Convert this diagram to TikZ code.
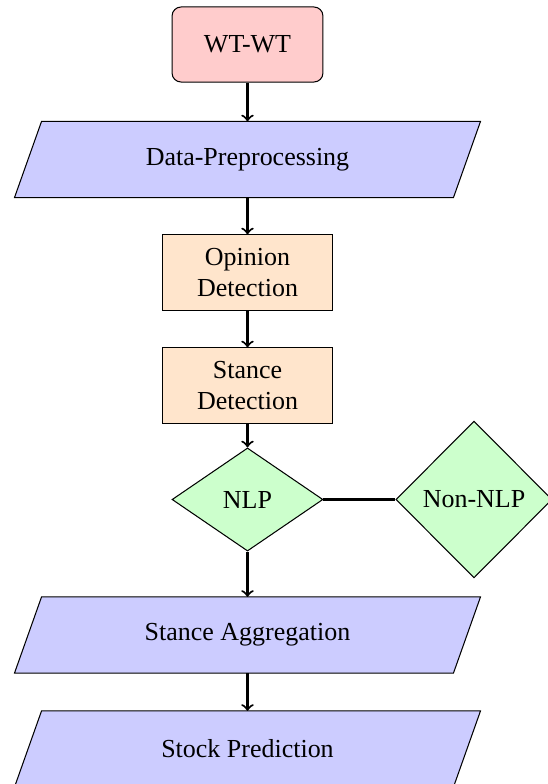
\documentclass[tikz,border=0pt]{standalone}
\usepackage{fontspec}
\setmainfont{Liberation Serif}
\usetikzlibrary{shapes.geometric,backgrounds}
\begin{document}
\begin{tikzpicture}[x=0.385pt,y=-0.385pt,
  every node/.style={font=\fontsize{10}{12.3}\selectfont, align=center},
  startbox/.style={draw, fill=red!20, rounded corners=3.5pt, minimum width=58.1pt, minimum height=28.9pt, inner sep=0pt},
  iobox/.style={minimum width=168.6pt, minimum height=28.9pt, inner sep=0pt},
  iofill/.style={draw, fill=blue!20},
  procbox/.style={draw, fill=orange!20, minimum width=65.1pt, minimum height=28.9pt, inner sep=0pt},
  decbox/.style={draw, fill=green!20, diamond, inner sep=0pt},
  flow/.style={->, thick},
  link/.style={thick}]
\useasboundingbox (0,0) rectangle (547,784);
\node[startbox] (wt) at (247.5,44.5) {WT-WT};
\node[iobox] (dp) at (247.5,159.5) {Data-Preprocessing};
\node[procbox] (od) at (247.5,272.5) {Opinion\\Detection};
\node[procbox] (sd) at (247.5,385.5) {Stance\\Detection};
\node[decbox, minimum width=58.1pt, minimum height=39.7pt] (nlp) at (247.5,499.5) {NLP};
\node[decbox, minimum width=60.1pt, minimum height=60.4pt] (non) at (474,499.5) {Non-NLP};
\node[iobox] (sa) at (247.5,635) {Stance Aggregation};
\node[iobox] (sp) at (247.5,749) {Stock Prediction};
\begin{scope}[on background layer]
\foreach \n in {dp,sa,sp}
  \draw[iofill] ([xshift=-5.2pt]\n.south west) -- ([xshift=-5.2pt]\n.south east)
    -- ([xshift=5.2pt]\n.north east) -- ([xshift=5.2pt]\n.north west) -- cycle;
\end{scope}
\draw[flow] (wt) -- (dp);
\draw[flow] (dp) -- (od);
\draw[flow] (od) -- (sd);
\draw[flow] (sd) -- (nlp);
\draw[link] (nlp) -- (non);
\draw[flow] (nlp) -- (sa);
\draw[flow] (sa) -- (sp);
\end{tikzpicture}
\end{document}
